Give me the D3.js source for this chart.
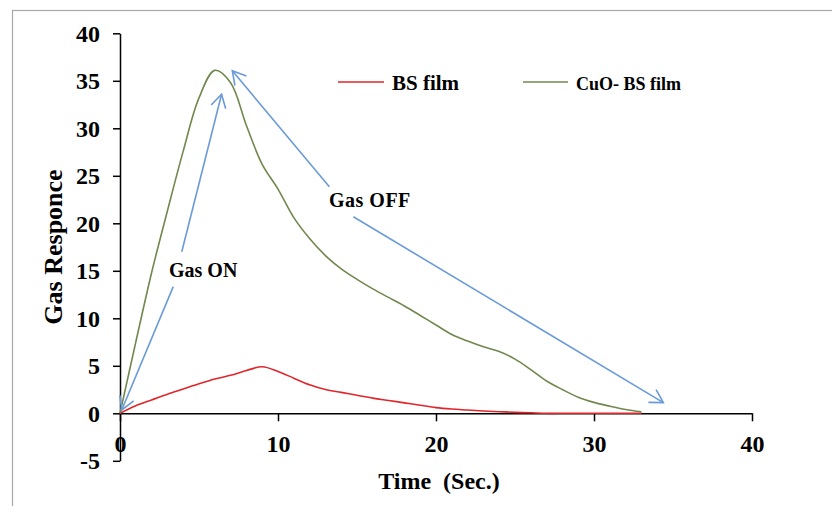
<!DOCTYPE html>
<html>
<head>
<meta charset="utf-8">
<script src="https://cdn.jsdelivr.net/npm/d3@7/dist/d3.min.js"></script>
<style>
  body { margin: 0; background: #fff; }
  svg text { font-family: "Liberation Serif", "Times New Roman", serif; font-weight: bold; fill: #000; }
  .axis path, .axis line { stroke: #000; stroke-width: 1.5; }
</style>
</head>
<body>
<div id="chart"></div>
<script>
// time in seconds
const time = [0, 1, 2, 3, 4, 5, 6, 7, 8, 9, 10, 11, 12, 13, 14, 15, 16,
              17, 18, 19, 20, 21, 22, 23, 24, 25, 26, 27, 28, 29, 30, 31, 32, 33]
const bsFilm = [0, 0.8, 1.4, 2.0, 2.55, 3.1, 3.6, 4.0, 4.5, 4.9, 4.4, 3.7, 3.0, 2.5, 2.2, 1.9, 1.6,
                1.35, 1.1, 0.85, 0.6, 0.45, 0.35, 0.25, 0.17, 0.1, 0.05, 0, 0, 0, 0, 0, 0, 0]
const cuoBsFilm = [0, 7.5, 14.8, 21.3, 27.6, 33.2, 36.1, 34.8, 30.3, 26.2, 23.6, 20.6, 18.4, 16.6, 15.2, 14.1, 13.1,
                   12.2, 11.3, 10.3, 9.3, 8.3, 7.6, 7.0, 6.5, 5.7, 4.6, 3.4, 2.5, 1.7, 1.15, 0.75, 0.4, 0.15]
const seriesNames = ["BS film", "CuO- BS film"]
const xTicks = [0, 10, 20, 30, 40]
const yTicks = [-5, 0, 5, 10, 15, 20, 25, 30, 35, 40]

// annotation arrows, [time, response] from text to tip
const onArrows = [[[3.91, 17.0], [6.43, 33.58]], [[3.37, 13.33], [0.11, 0.35]]]
const offArrows = [[[13.25, 23.85], [7.11, 36.06]], [[14.77, 20.69], [34.39, 1.12]]]

var width = 832,
    height = 506

var x = d3.scaleLinear().domain([0, 40]).range([120, 752])
var y = d3.scaleLinear().domain([-5, 40]).range([460.8, 33.3])

var svg = d3.select("#chart").append("svg")
    .attr("width", width)
    .attr("height", height)

// outer frame, cut by the picture edge
svg.append("rect")
    .attr("x", 12.5).attr("y", 10.5)
    .attr("width", 860).attr("height", 540)
    .attr("fill", "none")
    .attr("stroke", "#a9a9a9")
    .attr("stroke-width", 1.2)

// y axis
svg.append("g")
    .attr("class", "axis")
    .attr("transform", "translate(" + x(0) + ",0)")
    .call(d3.axisLeft(y).tickValues(yTicks).tickFormat(d => String(d))
      .tickSize(7).tickSizeOuter(0).tickPadding(13))
    .call(g => g.selectAll("text").style("font-size", "24px").attr("dy", "0.34em"))

// x axis on the zero line
svg.append("g")
    .attr("class", "axis")
    .attr("transform", "translate(0," + y(0) + ")")
    .call(d3.axisBottom(x).tickValues(xTicks).tickFormat(d => String(d))
      .tickSize(8).tickSizeOuter(0).tickPadding(14))
    .call(g => g.selectAll("text").style("font-size", "24px"))

var line = d3.line()
    .x((d, i) => x(time[i]))
    .y(d => y(d))
    .curve(d3.curveCatmullRom.alpha(0.5))

var colors = ["#e0262b", "#71884e"]

svg.selectAll("path.series")
    .data([bsFilm, cuoBsFilm])
  .enter().append("path")
    .attr("class", "series")
    .attr("d", line)
    .attr("fill", "none")
    .attr("stroke", (d, i) => colors[i])
    .attr("stroke-width", 1.6)

// arrows
function arrow(seg) {
  var x1 = x(seg[0][0]), y1 = y(seg[0][1]),
      x2 = x(seg[1][0]), y2 = y(seg[1][1])
  var a = Math.atan2(y2 - y1, x2 - x1),
      len = 15, spread = Math.PI / 6
  var head = [[x2 - len * Math.cos(a - spread), y2 - len * Math.sin(a - spread)],
              [x2, y2],
              [x2 - len * Math.cos(a + spread), y2 - len * Math.sin(a + spread)]]
  var g = svg.append("g")
      .attr("fill", "none")
      .attr("stroke", "#6a9bd8")
      .attr("stroke-width", 1.6)
  g.append("line").attr("x1", x1).attr("y1", y1).attr("x2", x2).attr("y2", y2)
  g.append("path").attr("d", d3.line()(head))
}
onArrows.forEach(arrow)
offArrows.forEach(arrow)

svg.append("text")
    .attr("x", 169).attr("y", 277)
    .style("font-size", "20px")
    .text("Gas ON")

svg.append("text")
    .attr("x", 329).attr("y", 207)
    .style("font-size", "20px")
    .style("letter-spacing", "0.5px")
    .text("Gas OFF")

// legend
var legendX = [338, 523]
var legend = svg.selectAll("g.legend")
    .data(seriesNames)
  .enter().append("g")
    .attr("class", "legend")
    .attr("transform", (d, i) => "translate(" + legendX[i] + ",82)")
legend.append("line")
    .attr("x1", 0).attr("x2", (d, i) => i ? 45 : 46)
    .attr("stroke", (d, i) => colors[i])
    .attr("stroke-width", 1.6)
legend.append("text")
    .attr("x", (d, i) => i ? 53 : 54)
    .attr("y", 8)
    .style("font-size", (d, i) => i ? "18px" : "21px")
    .text(d => d)

// axis titles
svg.append("text")
    .attr("x", 439).attr("y", 489)
    .attr("text-anchor", "middle")
    .style("font-size", "24px")
    .style("white-space", "pre")
    .text("Time  (Sec.)")

svg.append("text")
    .attr("transform", "translate(62,247) rotate(-90)")
    .attr("text-anchor", "middle")
    .style("font-size", "26px")
    .text("Gas Responce")
</script>
</body>
</html>
